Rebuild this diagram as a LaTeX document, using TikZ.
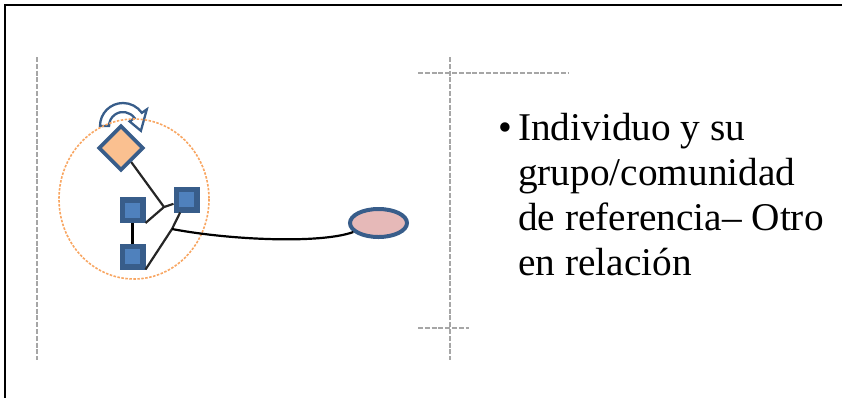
\documentclass[tikz,border=0pt]{standalone}
\usepackage{fontspec}
\setmainfont{Liberation Serif}
\usetikzlibrary{shapes.geometric}
\definecolor{bdr}{HTML}{385D8A}
\definecolor{sqfill}{HTML}{4F81BD}
\definecolor{dfill}{HTML}{FAC090}
\definecolor{efill}{HTML}{E6B9B8}
\definecolor{orng}{HTML}{F79646}
\definecolor{guide}{HTML}{A6A6A6}
\begin{document}
\begin{tikzpicture}[x=1pt,y=-1pt,
  sqbox/.style={draw=bdr, fill=sqfill, line width=5.5pt, minimum size=20.5pt, inner sep=0pt},
  diabox/.style={diamond, shape aspect=1, draw=bdr, fill=dfill, line width=3.8pt, minimum size=45pt, inner sep=0pt},
  ellbox/.style={ellipse, draw=bdr, fill=efill, line width=4pt, minimum width=57pt, minimum height=28pt, inner sep=0pt},
  guideline/.style={draw=guide, line width=2.6pt, dash pattern=on 5pt off 1.8pt},
  conn/.style={draw=black!85, line width=2.2pt},
  frameline/.style={draw=black, line width=2.5pt}]
\useasboundingbox (0,0) rectangle (842,397);
% frame
\draw[frameline] (5,400) -- (5,5) -- (845,5);
% guides
\draw[guideline] (37,57) -- (37,360);
\draw[guideline] (450,57) -- (450,360);
\draw[guideline] (418,73) -- (569,73);
\draw[guideline] (418,328) -- (469,328);
% circular arrow
\draw[draw=bdr, line width=2.3pt, line join=miter]
  (100,126) arc[start angle=180, end angle=325, radius=23]
  -- (146.8,109.4) -- (140.9,130.8) -- (129.6,121.4) -- (134.5,118)
  arc[start angle=325, end angle=180, radius=14] -- cycle;
% orange dashed circle
\draw[orng!85, line width=1.6pt, dash pattern=on 2.5pt off 1.5pt] (134,199) ellipse [x radius=75, y radius=80];
% nodes
\node[diabox] (dia) at (121,148) {};
\node[sqbox] (sq1) at (186.5,199.5) {};
\node[sqbox] (sq2) at (132.5,210) {};
\node[sqbox] (sq3) at (132.5,256.5) {};
\node[ellbox] (ell) at (378.5,223) {};
\coordinate (j1) at (164,207);
\coordinate (j2) at (172,229);
% connectors
\draw[conn] (dia) -- (j1);
\draw[conn] (sq2.south east) -- (j1) -- (sq1);
\draw[conn] (sq3.south east) -- (j2) -- (sq1);
\draw[draw=black, line width=3.2pt] (sq2) -- (sq3);
\draw[conn, draw=black] (j2) .. controls (230,240) and (320,244) .. (ell);
% text
\node[anchor=base west, align=left, inner sep=0pt, font=\fontsize{39.3}{44.7}\selectfont] (txt) at (518,275)
  {\makebox[0pt][r]{•\hspace{6pt}}Individuo y su\\grupo/comunidad\\de referencia– Otro\\en relación};
\end{tikzpicture}
\end{document}
